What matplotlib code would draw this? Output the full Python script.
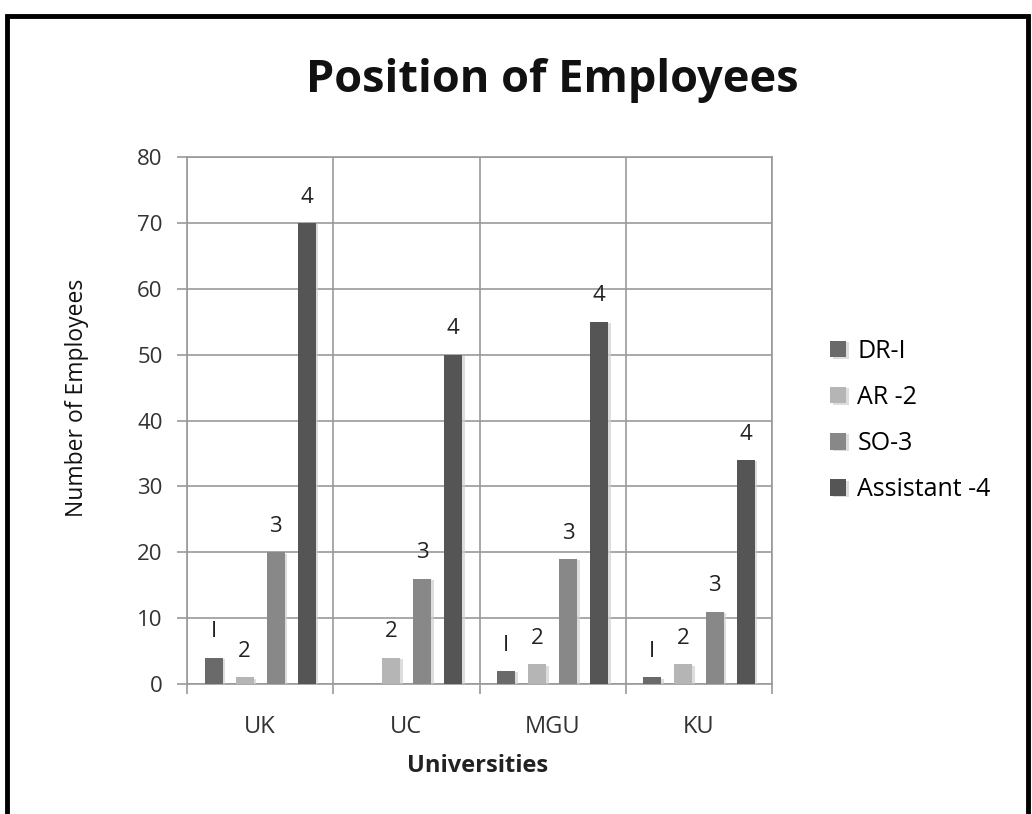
import numpy as np
import matplotlib
matplotlib.use("Agg")
import matplotlib.pyplot as plt
import matplotlib.patheffects as pe
from matplotlib.patches import Rectangle

universities = ["UK", "UC", "MGU", "KU"]
positions = ["DR-I", "AR -2", "SO-3", "Assistant -4"]
bar_tags = ["I", "2", "3", "4"]
dr = [4, 0, 2, 1]
ar = [1, 4, 3, 3]
so = [20, 16, 19, 11]
assistant = [70, 50, 55, 34]
colors = ["#6a6a6a", "#b5b5b5", "#888888", "#555555"]

plt.rcParams["font.family"] = ["Open Sans", "DejaVu Sans"]

fig = plt.figure(figsize=(10.32, 8.14), dpi=100)
ax = fig.add_axes([0.1812, 0.1597, 0.567, 0.6474])

x = np.arange(len(universities))
step = 0.212
width = 0.123
shadow = [pe.SimplePatchShadow(offset=(2, -1), shadow_rgbFace="#cfcfcf", alpha=0.7), pe.Normal()]

for i, (vals, name) in enumerate(zip([dr, ar, so, assistant], positions)):
    bars = ax.bar(x + (i - 1.5) * step, vals, width, color=colors[i], label=name, zorder=3)
    for b in bars:
        b.set_path_effects(shadow)
    tags = [bar_tags[i] if v > 0 else "" for v in vals]
    ax.bar_label(bars, labels=tags, padding=11, fontsize=16, color="#222222")

ax.set_xlim(-0.5, 3.5)
ax.set_ylim(0, 80)
ax.set_yticks(range(0, 81, 10))
ax.set_xticks(x)
ax.set_xticklabels(universities)
ax.set_xticks(np.arange(-0.5, 3.6, 1), minor=True)
ax.tick_params(axis="x", which="major", length=0, pad=22, labelsize=17, labelcolor="#333333")
ax.tick_params(axis="x", which="minor", length=7, color="#999999", width=1.2)
ax.tick_params(axis="y", length=7.5, color="#999999", width=1.2, labelsize=16, labelcolor="#333333", pad=10)

ax.grid(axis="y", color="#999999", linewidth=1.2, zorder=0)
ax.grid(axis="x", which="minor", color="#999999", linewidth=1.2, zorder=0)
for s in ax.spines.values():
    s.set_color("#999999")
    s.set_linewidth(1.2)

ax.set_xlabel("Universities", fontsize=17, fontweight="bold", color="#222222")
ax.xaxis.set_label_coords(0.497, -0.156)
ax.xaxis.label.set_va("center")
ax.set_ylabel("Number of Employees", fontsize=16.5, color="#111111")
ax.yaxis.set_label_coords(-0.188, 0.543)
ax.yaxis.label.set_va("center")

fig.text(0.535, 1 - 92 / 814, "Position of Employees", ha="center", va="baseline",
         fontsize=32.5, fontweight="bold", color="#111111")

leg = ax.legend(loc="center left", bbox_to_anchor=(1.06, 0.5), frameon=False,
                fontsize=18, handlelength=0.65, handleheight=0.65, labelspacing=0.85,
                handletextpad=0.45)

# outer black frame
fig.patches.append(Rectangle((0.0063, -0.05), 0.99, 1.03, transform=fig.transFigure,
                             fill=False, edgecolor="black", linewidth=3.5))

fig.savefig("out.png", dpi=100)
